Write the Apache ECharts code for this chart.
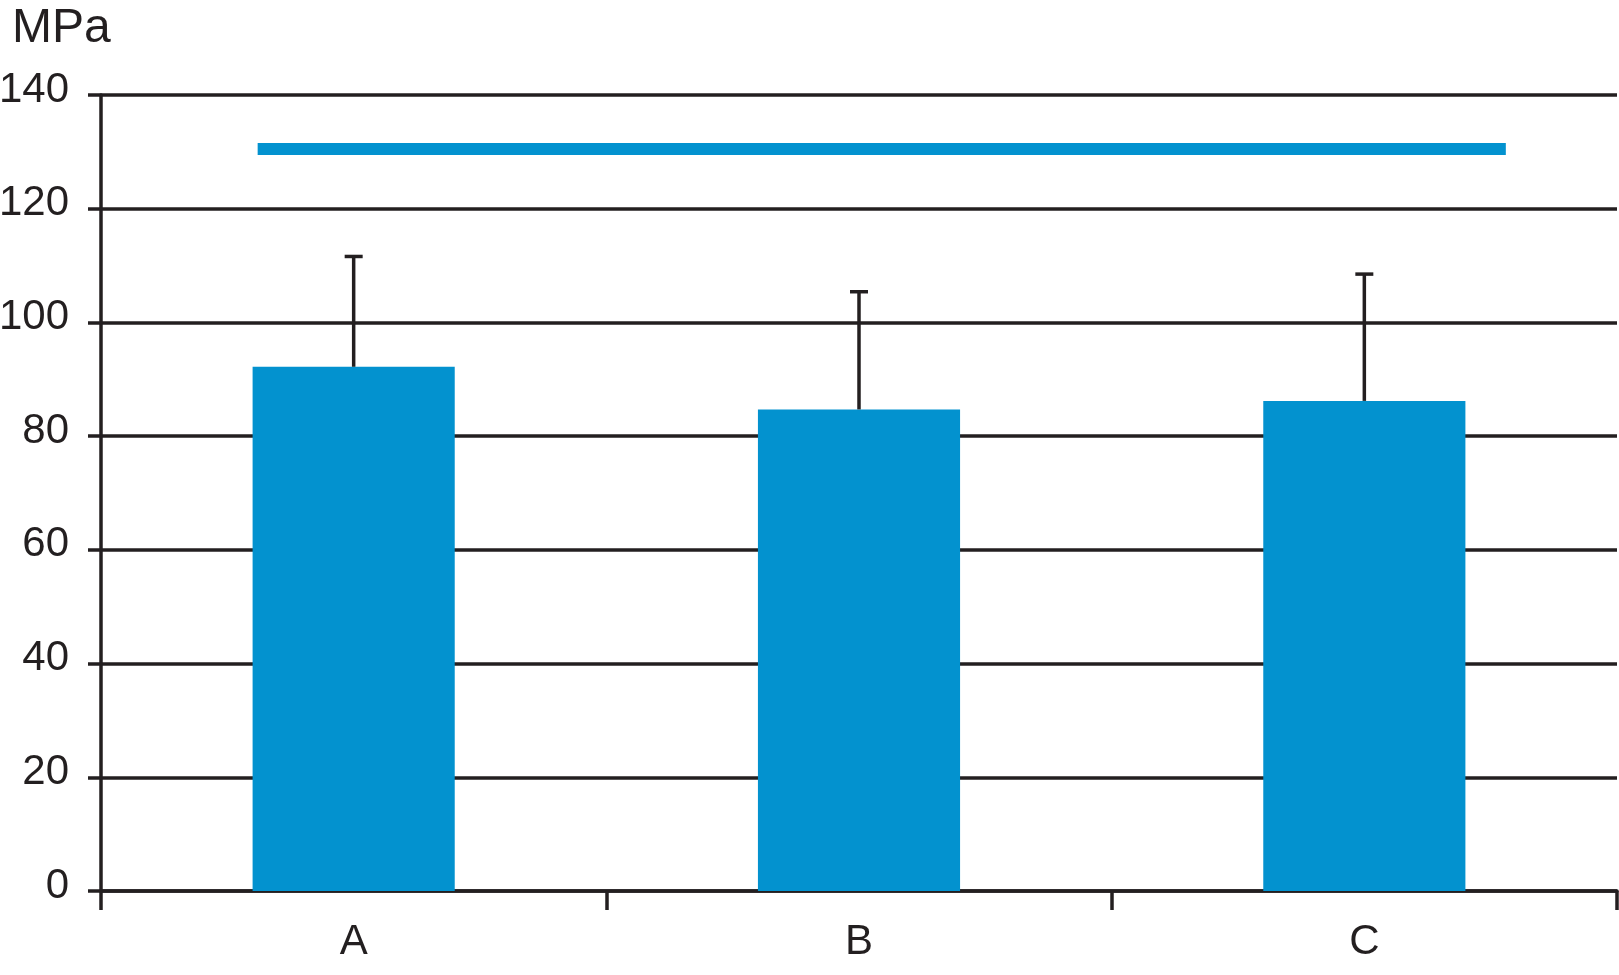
<!DOCTYPE html>
<html>
<head>
<meta charset="utf-8">
<script src="https://cdn.jsdelivr.net/npm/echarts@6/dist/echarts.min.js"></script>
<style>
  html, body { margin: 0; padding: 0; background: #fff; }
  #chart { width: 1619px; height: 975px; }
</style>
</head>
<body>
<div id="chart"></div>
<script>
// data
const categories = ['A', 'B', 'C']
const means = [92.2, 84.7, 86.2]
const sdUpper = [19.4, 20.7, 22.3]   // one-sided error bars
const yTicks = [0, 20, 40, 60, 80, 100, 120, 140]
// significance bracket: span in category units, height in MPa
const bracketSpan = [0.31, 2.78]
const bracketValue = 130.5

const ink = '#231f20'
const blue = '#0392cf'
const font = 'Liberation Sans, Arial, Helvetica, sans-serif'

const chart = echarts.init(document.getElementById('chart'))

chart.setOption({
  animation: false,
  title: {
    text: 'MPa',
    left: 12,
    top: 5,
    padding: 0,
    textStyle: { fontFamily: font, fontSize: 48, fontWeight: 'normal', color: ink }
  },
  grid: { left: 101, right: 2, top: 95, bottom: 84, containLabel: false, outerBoundsMode: 'none' },
  xAxis: [{
    type: 'category',
    data: categories,
    axisLine: { lineStyle: { color: ink, width: 3.5 } },
    axisTick: { show: true, length: 19, lineStyle: { color: ink, width: 3.5 } },
    axisLabel: { margin: 30, fontFamily: font, fontSize: 42, color: ink }
  }, {
    // hidden helper axis to place the bracket across categories
    type: 'value',
    min: 0,
    max: 3,
    show: false
  }],
  yAxis: {
    type: 'value',
    min: yTicks[0],
    max: yTicks[yTicks.length - 1],
    interval: 20,
    axisLine: { show: true, lineStyle: { color: ink, width: 3.5 } },
    axisTick: { show: true, length: 13, lineStyle: { color: ink, width: 3.5 } },
    axisLabel: {
      margin: 32,
      fontFamily: font,
      fontSize: 42,
      color: ink,
      verticalAlign: 'bottom',
      lineHeight: 10
    },
    splitLine: { lineStyle: { color: ink, width: 3.5 } }
  },
  series: [{
    type: 'bar',
    data: means,
    barWidth: '40%',
    itemStyle: { color: blue },
    z: 2
  }, {
    type: 'custom',
    z: 3,
    data: means.map((m, i) => [i, m, m + sdUpper[i]]),
    renderItem: (params, api) => {
      const base = api.coord([api.value(0), api.value(1)])
      const top = api.coord([api.value(0), api.value(2)])
      const half = 9
      return {
        type: 'group',
        children: [{
          type: 'line',
          shape: { x1: base[0], y1: base[1], x2: top[0], y2: top[1] },
          style: { stroke: ink, lineWidth: 3.5 }
        }, {
          type: 'line',
          shape: { x1: top[0] - half, y1: top[1], x2: top[0] + half, y2: top[1] },
          style: { stroke: ink, lineWidth: 3.5 }
        }]
      }
    }
  }, {
    type: 'line',
    xAxisIndex: 1,
    data: bracketSpan.map(x => [x, bracketValue]),
    symbol: 'none',
    lineStyle: { color: blue, width: 12, cap: 'butt' },
    z: 3
  }]
})
</script>
</body>
</html>
